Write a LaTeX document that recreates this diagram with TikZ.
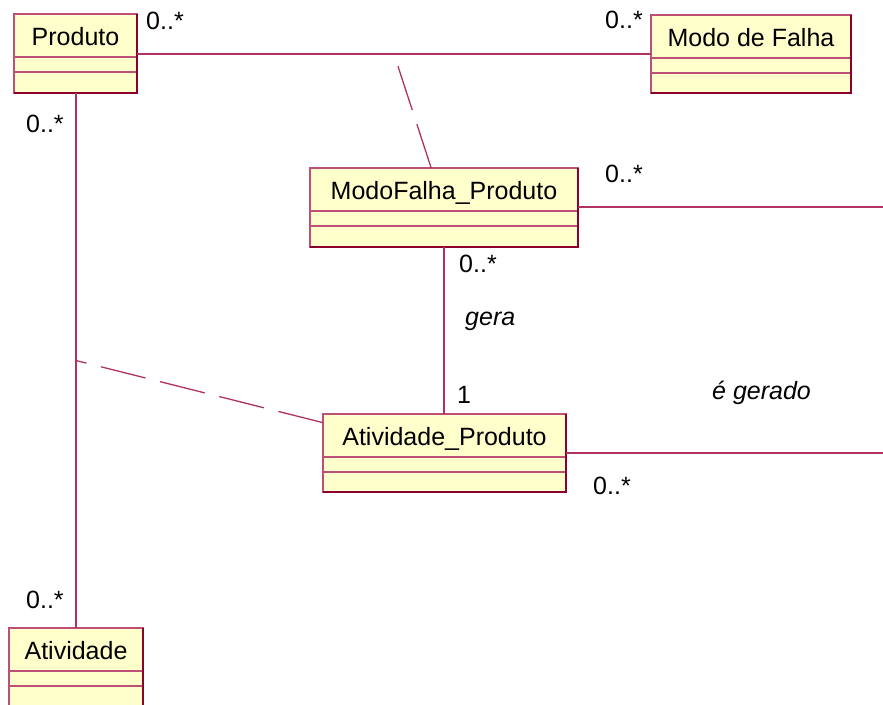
\documentclass[tikz,border=0pt]{standalone}
\usepackage{fontspec}
\setmainfont{Liberation Sans}
\usetikzlibrary{calc}

\definecolor{boxfill}{HTML}{FFFFCC}
\definecolor{edgelight}{RGB}{190,80,120}
\definecolor{edgedark}{RGB}{140,0,45}
\definecolor{assoc}{RGB}{176,50,98}

\tikzset{
  classbox/.style={draw=edgelight, fill=boxfill, line width=1.2pt, inner sep=0pt, outer sep=0pt},
  darkedge/.style={draw=edgedark, line width=1.8pt},
  divider/.style={draw=edgelight, line width=1.2pt},
  classname/.style={font=\fontsize{25}{30}\selectfont, inner sep=0pt},
  mult/.style={font=\fontsize{25}{30}\selectfont, inner sep=0pt, anchor=base west},
  rolename/.style={font=\fontsize{25}{30}\selectfont\itshape, inner sep=0pt, anchor=base west},
  assocline/.style={draw=assoc, line width=1.3pt},
  assocclass/.style={draw=assoc, line width=1.3pt, dash pattern=on 46pt off 15pt},
}

% UML class: name, left, top, right, bottom, title
\newcommand\umlclass[6]{%
  \node[classbox, anchor=north west,
        minimum width={(#4-#2)*1pt}, minimum height={(#5-#3)*1pt}] (#1) at (#2,#3) {};
  \draw[divider] ([yshift=-43pt]#1.north west) -- ([yshift=-43pt]#1.north east);
  \draw[divider] ([yshift=-58pt]#1.north west) -- ([yshift=-58pt]#1.north east);
  \draw[darkedge] (#1.north east) -- (#1.south east) -- (#1.south west);
  \node[classname, anchor=base] (#1-name) at ([yshift=-31pt]#1.north) {#6};
}

\begin{document}
\begin{tikzpicture}[x=1pt, y=-1pt]
  \useasboundingbox (0,0) rectangle (883,704);
  \clip (0,0) rectangle (883,704);

  \umlclass{produto}{14}{14}{137}{93}{Produto}
  \umlclass{modo}{651}{15}{851}{93}{Modo de Falha}
  \umlclass{mfp}{310}{168}{578}{247}{ModoFalha\_Produto}
  \umlclass{ap}{323}{414}{566}{492}{Atividade\_Produto}
  \umlclass{atividade}{9}{628}{143}{716}{Atividade}

  \coordinate (rightA) at (883,207);
  \coordinate (rightB) at (883,453);

  % associations (kept strictly horizontal / vertical)
  \draw[assocline] (modo.west) -- (modo.west -| produto.east) coordinate[midway] (mid1);
  \draw[assocline] (atividade.north) -- (atividade.north |- produto.south) coordinate[midway] (mid2);
  \draw[assocline] (mfp.south) -- (mfp.south |- ap.north);
  \draw[assocline] (mfp.east |- rightA) -- (rightA);
  \draw[assocline] (ap.east) -- (ap.east -| rightB);

  % association classes
  \draw[assocclass] (mfp) -- (mid1);
  \draw[assocclass] (ap) -- (mid2);

  % multiplicities and role names
  \node[mult] (m1) at (146,29) {0..*};
  \node[mult] (m2) at (605,28) {0..*};
  \node[mult] (m3) at (26,132) {0..*};
  \node[mult] (m4) at (26,608) {0..*};
  \node[mult] (m5) at (605,182) {0..*};
  \node[mult] (m6) at (459,272) {0..*};
  \node[mult] (m7) at (457,403) {1};
  \node[mult] (m8) at (593,494) {0..*};
  \node[rolename] (r1) at (465,325) {gera};
  \node[rolename] (r2) at (712,399) {é gerado};
\end{tikzpicture}
\end{document}
